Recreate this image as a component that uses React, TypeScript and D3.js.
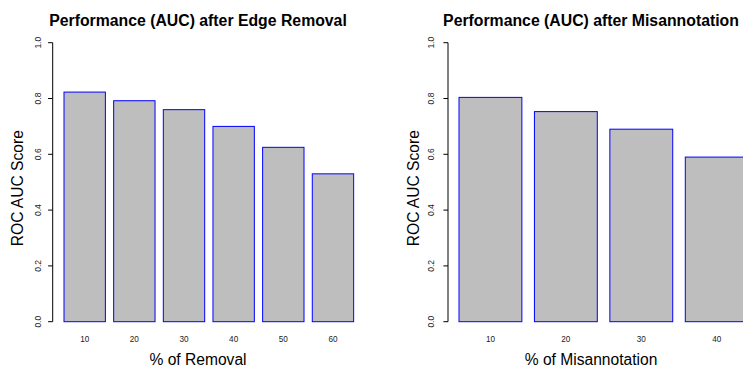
import React from "react";
import * as d3 from "d3";

const removalLabels = ["10", "20", "30", "40", "50", "60"];
const removalAUC = [0.823, 0.792, 0.76, 0.7, 0.625, 0.53];
const misLabels = ["10", "20", "30", "40"];
const misAUC = [0.804, 0.753, 0.69, 0.59];
const yTicks = [0, 0.2, 0.4, 0.6, 0.8, 1.0];

const FONT = "'Liberation Sans', Arial, Helvetica, sans-serif";

type PanelProps = {
  title: string;
  xTitle: string;
  labels: string[];
  values: number[];
  axisX: number;
  barStart: number;
  unit: number;
  titleX: number;
  tickLabelX: number;
  yTitleX: number;
};

function Panel(p: PanelProps) {
  const y = d3.scaleLinear().domain([0, 1]).range([321.7, 42.7]);
  const n = p.labels.length;
  const x = d3
    .scaleLinear()
    .domain([0.2, 0.2 + 1.2 * n - 0.2])
    .range([p.barStart, p.barStart + (1.2 * n - 0.2) * p.unit]);
  const yMid = (y(0) + y(1)) / 2 + 6;
  return (
    <g>
      <text
        x={p.titleX}
        y={26}
        textAnchor="middle"
        fontFamily={FONT}
        fontWeight="bold"
        fontSize={15.8}
        fill="#000"
      >
        {p.title}
      </text>
      {p.values.map((v, i) => {
        const l = 0.2 + 1.2 * i;
        return (
          <rect
            key={i}
            x={x(l)}
            y={y(v)}
            width={x(l + 1) - x(l)}
            height={y(0) - y(v)}
            fill="#BEBEBE"
            stroke="#0000FF"
            strokeWidth={1}
          />
        );
      })}
      <line
        x1={p.axisX}
        x2={p.axisX}
        y1={y(0)}
        y2={y(1)}
        stroke="#000"
        strokeWidth={1}
      />
      {yTicks.map((t) => (
        <g key={t}>
          <line
            x1={p.axisX - 4.6}
            x2={p.axisX}
            y1={y(t)}
            y2={y(t)}
            stroke="#000"
            strokeWidth={1}
          />
          <text
            transform={`translate(${p.tickLabelX},${y(t)}) rotate(-90)`}
            textAnchor="middle"
            fontFamily={FONT}
            fontSize={8.5}
            fill="#222"
          >
            {t.toFixed(1)}
          </text>
        </g>
      ))}
      {p.labels.map((lab, i) => {
        const c = 0.2 + 1.2 * i + 0.5;
        return (
          <text
            key={lab}
            x={x(c)}
            y={341.5}
            textAnchor="middle"
            fontFamily={FONT}
            fontSize={8.2}
            fill="#222"
          >
            {lab}
          </text>
        );
      })}
      <text
        x={p.titleX}
        y={364.5}
        textAnchor="middle"
        fontFamily={FONT}
        fontSize={15.6}
        fill="#000"
      >
        {p.xTitle}
      </text>
      <text
        transform={`translate(${p.yTitleX},${yMid}) rotate(-90)`}
        textAnchor="middle"
        fontFamily={FONT}
        fontSize={15.6}
        fill="#000"
      >
        ROC AUC Score
      </text>
    </g>
  );
}

export default function App() {
  return (
    <svg
      width={743}
      height={367}
      style={{ position: "absolute", left: 0, top: 0, background: "#fff" }}
    >
      <rect x={0} y={0} width={743} height={367} fill="#fff" />
      <Panel
        title="Performance (AUC) after Edge Removal"
        xTitle="% of Removal"
        labels={removalLabels}
        values={removalAUC}
        axisX={52.7}
        barStart={64}
        unit={41.38}
        titleX={198}
        tickLabelX={40.7}
        yTitleX={23.3}
      />
      <Panel
        title="Performance (AUC) after Misannotation"
        xTitle="% of Misannotation"
        labels={misLabels}
        values={misAUC}
        axisX={448}
        barStart={459}
        unit={62.86}
        titleX={591}
        tickLabelX={434}
        yTitleX={418.7}
      />
    </svg>
  );
}
